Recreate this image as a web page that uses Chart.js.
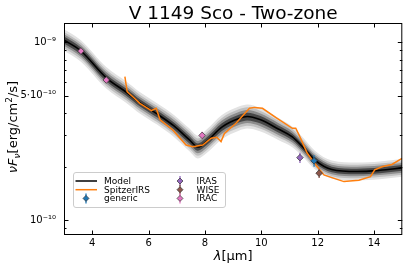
<!DOCTYPE html>
<html>
<head>
<meta charset="utf-8">
<script src="https://cdn.jsdelivr.net/npm/chart.js@4.4.1/dist/chart.umd.min.js"></script>
<style>
  html, body { margin: 0; padding: 0; background: #fff; }
  #wrap { width: 407px; height: 268px; }
</style>
</head>
<body>
<div id="wrap"><canvas id="sed" width="407" height="268"></canvas></div>
<script>
// model SED (lambda in micron, nuFnu in erg/cm2/s)
const modelLam  = [3.0, 3.6, 4.5, 5.2, 5.7, 6.3, 6.9, 7.45, 7.75, 8.05, 8.6, 9.2, 9.5, 9.95, 10.6, 11.1, 11.5, 11.9, 12.5, 13.4, 14.2, 15.0];
const modelFlux = [1.03e-9, 8.94e-10, 6.32e-10, 5.26e-10, 4.56e-10, 3.96e-10, 3.39e-10, 2.83e-10, 2.58e-10, 2.77e-10, 3.34e-10, 3.73e-10, 3.83e-10, 3.68e-10, 3.26e-10, 2.94e-10, 2.55e-10, 2.18e-10, 1.93e-10, 1.88e-10, 1.91e-10, 1.97e-10];
// half width of the outer grey band, in dex
const bandSpread = [0.06, 0.06, 0.06, 0.06, 0.06, 0.06, 0.062, 0.064, 0.064, 0.066, 0.068, 0.068, 0.068, 0.066, 0.062, 0.058, 0.054, 0.052, 0.05, 0.05, 0.05, 0.05];
const bandLevels = [1.0, 0.76, 0.54, 0.32];
const bandColors = ['#e2e2e2', '#c0c0c0', '#8c8c8c', '#474747'];

// Spitzer IRS spectrum
const irsLam  = [5.16, 5.24, 5.45, 5.69, 5.9, 6.1, 6.27, 6.39, 6.42, 6.86, 7.33, 7.57, 7.92, 8.22, 8.42, 8.57, 8.69, 9.1, 9.58, 9.75, 10.04, 10.52, 11.1, 11.22, 11.34, 11.63, 11.93, 12.22, 12.58, 12.93, 13.46, 13.87, 14.02, 14.28, 14.63, 14.99];
const irsFlux = [6.41e-10, 5.28e-10, 4.93e-10, 4.54e-10, 4.33e-10, 4.13e-10, 4.26e-10, 3.74e-10, 3.66e-10, 3.22e-10, 2.65e-10, 2.59e-10, 2.65e-10, 2.89e-10, 2.93e-10, 2.77e-10, 3.08e-10, 3.51e-10, 4.26e-10, 4.31e-10, 4.26e-10, 3.78e-10, 3.29e-10, 3.29e-10, 3.01e-10, 2.38e-10, 2.05e-10, 1.80e-10, 1.72e-10, 1.65e-10, 1.68e-10, 1.76e-10, 1.92e-10, 2.00e-10, 2.06e-10, 2.23e-10];

// photometry
const genericLam = [11.87], genericFlux = [2.16e-10], genericErr = [0.16e-10];
const irasLam = [11.37], irasFlux = [2.25e-10], irasErr = [0.15e-10];
const wiseLam = [12.05], wiseFlux = [1.84e-10], wiseErr = [0.11e-10];
const iracLam = [3.6, 4.5, 7.9], iracFlux = [8.93e-10, 6.14e-10, 3.00e-10], iracErr = [0.3e-10, 0.2e-10, 0.14e-10];

const xTickVals = [4, 6, 8, 10, 12, 14];
const yTickVals = [9e-11, 1e-10, 2e-10, 3e-10, 4e-10, 5e-10, 6e-10, 7e-10, 8e-10, 9e-10, 1e-9];
const yTickText = ['', '10⁻¹⁰', '', '', '', '5·10⁻¹⁰', '', '', '', '', '10⁻⁹'];

const FONT = "'DejaVu Sans', sans-serif";
Chart.defaults.font.family = FONT;
Chart.defaults.color = '#000';

function pts(xs, ys) { return xs.map((x, i) => ({x: x, y: ys[i]})); }

const datasets = [];
// grey bands, outer first, each as upper edge filled down to lower edge
bandLevels.forEach((lv, k) => {
  const lowIdx = datasets.length;
  datasets.push({
    label: '_band' + k + 'lo',
    data: modelLam.map((x, i) => ({x: x, y: modelFlux[i] / Math.pow(10, bandSpread[i] * lv)})),
    borderWidth: 0, pointRadius: 0, fill: false, cubicInterpolationMode: 'monotone', order: 20 - 2 * k
  });
  datasets.push({
    label: '_band' + k + 'hi',
    data: modelLam.map((x, i) => ({x: x, y: modelFlux[i] * Math.pow(10, bandSpread[i] * lv)})),
    borderWidth: 0, pointRadius: 0, backgroundColor: bandColors[k],
    fill: lowIdx, cubicInterpolationMode: 'monotone', order: 19 - 2 * k
  });
});
datasets.push({label: 'Model', data: pts(modelLam, modelFlux), borderColor: '#000', borderWidth: 1.6,
  pointRadius: 0, fill: false, cubicInterpolationMode: 'monotone', order: 6});
datasets.push({label: 'SpitzerIRS', data: pts(irsLam, irsFlux), borderColor: '#ff7f0e', borderWidth: 1.5,
  pointRadius: 0, fill: false, tension: 0, order: 5});

const phot = [
  {label: 'generic', xs: genericLam, ys: genericFlux, err: genericErr, color: '#1f77b4'},
  {label: 'IRAS', xs: irasLam, ys: irasFlux, err: irasErr, color: '#9467bd'},
  {label: 'WISE', xs: wiseLam, ys: wiseFlux, err: wiseErr, color: '#8c564b'},
  {label: 'IRAC', xs: iracLam, ys: iracFlux, err: iracErr, color: '#e377c2'}
];
phot.forEach((p, k) => {
  datasets.push({label: p.label, data: pts(p.xs, p.ys), errs: p.err, showLine: false,
    pointStyle: 'rectRot', pointRadius: 3.3, pointBackgroundColor: p.color,
    pointBorderColor: '#333', pointBorderWidth: 0.7, borderColor: p.color, order: 4 - k});
});

// vertical error bars under the markers
const errorBars = {
  id: 'errorBars',
  beforeDatasetDraw(chart, args) {
    const ds = chart.data.datasets[args.index];
    if (!ds.errs) return;
    const ctx = chart.ctx, y = chart.scales.y;
    ctx.save();
    ctx.strokeStyle = ds.borderColor;
    ctx.lineWidth = 1.3;
    args.meta.data.forEach((el, i) => {
      const v = ds.data[i].y, e = ds.errs[i];
      ctx.beginPath();
      ctx.moveTo(el.x, y.getPixelForValue(v - e));
      ctx.lineTo(el.x, y.getPixelForValue(v + e));
      ctx.stroke();
    });
    ctx.restore();
  }
};

function diamond(ctx, cx, cy, r, fill) {
  ctx.beginPath();
  ctx.moveTo(cx, cy - r); ctx.lineTo(cx + r, cy); ctx.lineTo(cx, cy + r); ctx.lineTo(cx - r, cy);
  ctx.closePath();
  ctx.fillStyle = fill; ctx.fill();
  ctx.strokeStyle = '#333'; ctx.lineWidth = 0.7; ctx.stroke();
}

// frame, inward ticks, titles and legend drawn like matplotlib
const decor = {
  id: 'decor',
  afterDraw(chart) {
    const {ctx, chartArea: a, scales: {x, y}} = chart;
    ctx.save();
    ctx.strokeStyle = '#000';
    ctx.lineWidth = 1;
    ctx.strokeRect(a.left + 0.5, a.top + 0.5, a.right - a.left - 1, a.bottom - a.top - 1);
    ctx.beginPath();
    xTickVals.forEach(v => {
      const px = Math.round(x.getPixelForValue(v)) + 0.5;
      ctx.moveTo(px, a.bottom); ctx.lineTo(px, a.bottom - 4.5);
      ctx.moveTo(px, a.top); ctx.lineTo(px, a.top + 4.5);
    });
    yTickVals.forEach((v, i) => {
      const py = Math.round(y.getPixelForValue(v)) + 0.5;
      const len = yTickText[i] ? 4.5 : 2.5;
      ctx.moveTo(a.left, py); ctx.lineTo(a.left + len, py);
      ctx.moveTo(a.right, py); ctx.lineTo(a.right - len, py);
    });
    ctx.stroke();

    // title
    ctx.fillStyle = '#000';
    ctx.font = '18.5px ' + FONT;
    ctx.textAlign = 'center';
    ctx.textBaseline = 'alphabetic';
    ctx.fillText('V 1149 Sco - Two-zone', (a.left + a.right) / 2, 18.5);

    // y axis title  nu F_nu [erg/cm^2/s]
    const parts = [
      {t: 'νF', f: 'italic 13px ' + FONT, dy: 0},
      {t: 'ν', f: 'italic 9px ' + FONT, dy: 3},
      {t: '[erg/cm', f: '13px ' + FONT, dy: 0},
      {t: '2', f: '9px ' + FONT, dy: -5},
      {t: '/s]', f: '13px ' + FONT, dy: 0}
    ];
    let total = 0;
    parts.forEach(p => { ctx.font = p.f; p.w = ctx.measureText(p.t).width; total += p.w; });
    ctx.translate(17, (a.top + a.bottom) / 2 - 2);
    ctx.rotate(-Math.PI / 2);
    ctx.textAlign = 'left';
    let cx = -total / 2;
    parts.forEach(p => { ctx.font = p.f; ctx.fillText(p.t, cx, p.dy); cx += p.w; });
    ctx.setTransform(1, 0, 0, 1, 0, 0);

    // x axis title lambda [um]
    const xp = [{t: 'λ', f: 'italic 13px ' + FONT}, {t: '[µm]', f: '13px ' + FONT}];
    total = 0;
    xp.forEach(p => { ctx.font = p.f; p.w = ctx.measureText(p.t).width; total += p.w; });
    cx = (a.left + a.right) / 2 - total / 2;
    xp.forEach(p => { ctx.font = p.f; ctx.fillText(p.t, cx, 259.5); cx += p.w; });

    // legend
    ctx.beginPath();
    ctx.roundRect(73.5, 172.5, 152, 35, 2.5);
    ctx.fillStyle = 'rgba(255,255,255,0.8)';
    ctx.fill();
    ctx.strokeStyle = '#cccccc';
    ctx.lineWidth = 1;
    ctx.stroke();
    const rows = [181, 189.7, 198.4];
    ctx.font = '9px ' + FONT;
    ctx.textBaseline = 'middle';
    ctx.textAlign = 'left';
    const lineItems = [datasets[8], datasets[9]];
    lineItems.forEach((d, i) => {
      ctx.strokeStyle = d.borderColor; ctx.lineWidth = 1.5;
      ctx.beginPath(); ctx.moveTo(75.5, rows[i]); ctx.lineTo(97, rows[i]); ctx.stroke();
      ctx.fillStyle = '#000'; ctx.fillText(d.label, 104, rows[i] + 0.5);
    });
    const markItems = [[phot[0], 86, rows[2], 104], [phot[1], 180, rows[0], 196.5], [phot[2], 180, rows[1], 196.5], [phot[3], 180, rows[2], 196.5]];
    markItems.forEach(m => {
      const p = m[0];
      ctx.strokeStyle = p.color; ctx.lineWidth = 1.3;
      ctx.beginPath(); ctx.moveTo(m[1], m[2] - 5); ctx.lineTo(m[1], m[2] + 5); ctx.stroke();
      diamond(ctx, m[1], m[2], 3, p.color);
      ctx.fillStyle = '#000'; ctx.fillText(p.label, m[3], m[2] + 0.5);
    });
    ctx.restore();
  }
};

new Chart(document.getElementById('sed'), {
  type: 'line',
  data: {datasets: datasets},
  options: {
    responsive: false,
    animation: false,
    devicePixelRatio: 1,
    layout: {padding: {left: 0, right: 4, top: 23, bottom: 0}},
    plugins: {legend: {display: false}, title: {display: false}, tooltip: {enabled: false}},
    scales: {
      x: {
        type: 'linear', min: 3, max: 15,
        grid: {display: false, drawTicks: false}, border: {display: false},
        afterBuildTicks: s => { s.ticks = xTickVals.map(v => ({value: v})); },
        afterFit: s => { s.height = 33; },
        ticks: {font: {size: 10}, padding: 2, color: '#000', maxRotation: 0, autoSkip: false,
          callback: v => String(v)}
      },
      y: {
        type: 'logarithmic', min: 8.27e-11, max: 1.284e-9,
        grid: {display: false, drawTicks: false}, border: {display: false},
        afterBuildTicks: s => { s.ticks = yTickVals.map(v => ({value: v})); },
        afterFit: s => { s.width = 64; },
        ticks: {font: {size: 10}, padding: 8, color: '#000', autoSkip: false,
          callback: (v, i) => yTickText[i]}
      }
    }
  },
  plugins: [errorBars, decor]
});
</script>
</body>
</html>
